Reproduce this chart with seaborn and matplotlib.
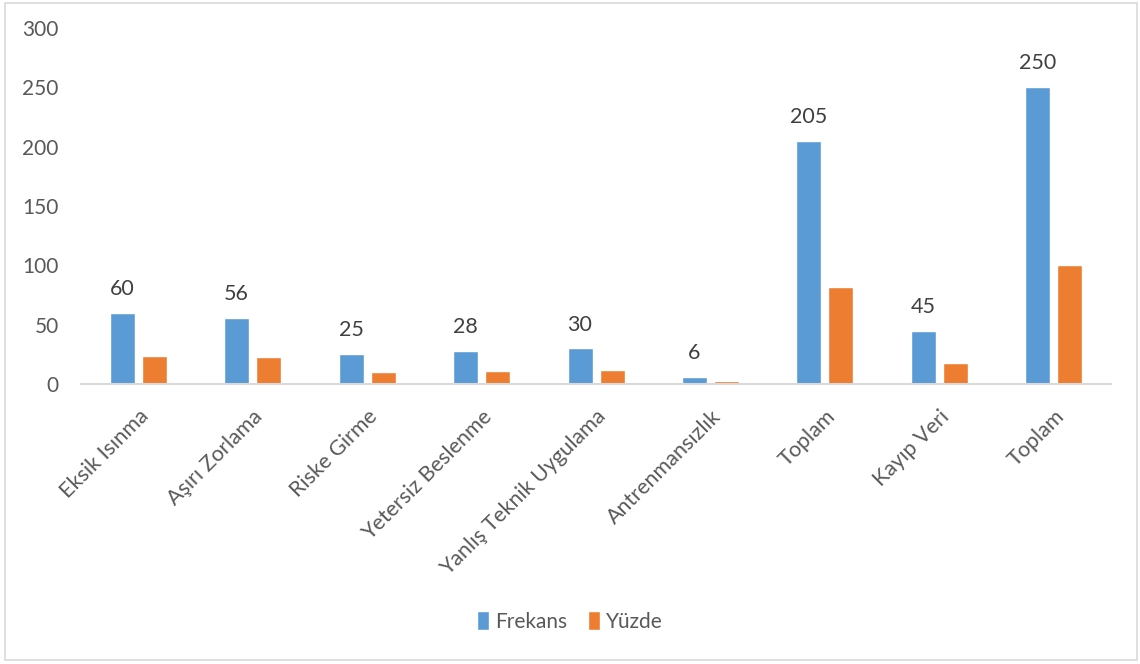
import matplotlib
matplotlib.use("Agg")
import matplotlib.pyplot as plt
import seaborn as sns
import pandas as pd
from matplotlib.patches import Rectangle

categories = ["Eksik Isınma", "Aşırı Zorlama", "Riske Girme", "Yetersiz Beslenme",
              "Yanlış Teknik Uygulama", "Antrenmansızlık", "Toplam", "Kayıp Veri", "Toplam"]
frekans = [60, 56, 25, 28, 30, 6, 205, 45, 250]
yuzde = [24, 22.4, 10, 11.2, 12, 2.4, 82, 18, 100]
series_names = ["Frekans", "Yüzde"]
y_ticks = [0, 50, 100, 150, 200, 250, 300]

sns.set_theme(style="white")
plt.rcParams["font.family"] = ["Lato", "DejaVu Sans"]

rows = []
for i, (f, y) in enumerate(zip(frekans, yuzde)):
    rows.append({"pos": i, "seri": series_names[0], "deger": f})
    rows.append({"pos": i, "seri": series_names[1], "deger": y})
df = pd.DataFrame(rows)

fig = plt.figure(figsize=(11.4, 6.64), dpi=100)
ax = fig.add_axes([0.0711, 0.4217, 0.9035, 0.5361])

sns.barplot(data=df, x="pos", y="deger", hue="seri", hue_order=series_names,
            palette=["#5B9BD5", "#ED7D31"], width=0.56, gap=0.22,
            saturation=1, ax=ax, legend=True)

ax.set_ylim(0, 300)
ax.set_yticks(y_ticks)
ax.set_xlim(-0.5, len(categories) - 0.5)
ax.set_xlabel("")
ax.set_ylabel("")
ax.set_xticks(range(len(categories)))
ax.set_xticklabels(categories, rotation=45, ha="right", rotation_mode="anchor",
                   fontsize=15.5, color="#595959")
ax.tick_params(axis="y", labelsize=15, labelcolor="#595959", length=0, pad=16)
ax.tick_params(axis="x", length=0, pad=16)

for side in ["top", "right", "left"]:
    ax.spines[side].set_visible(False)
ax.spines["bottom"].set_color("#D9D9D9")
ax.spines["bottom"].set_linewidth(1.5)

ax.bar_label(ax.containers[0], labels=[str(v) for v in frekans],
             padding=10, fontsize=15.5, color="#404040")

handles, labels = ax.get_legend_handles_labels()
ax.legend_.remove()
fig.legend(handles, labels, loc="center", bbox_to_anchor=(0.5, 0.064),
           ncol=2, frameon=False, fontsize=15, handlelength=0.55,
           handleheight=1.0, handletextpad=0.3, columnspacing=1.0,
           labelcolor="#595959")

fig.patches.append(Rectangle((0.004, 0.006), 0.993, 0.99, transform=fig.transFigure,
                             fill=False, edgecolor="#D9D9D9", linewidth=1.2))

fig.savefig("out.png", dpi=100, facecolor="white")
